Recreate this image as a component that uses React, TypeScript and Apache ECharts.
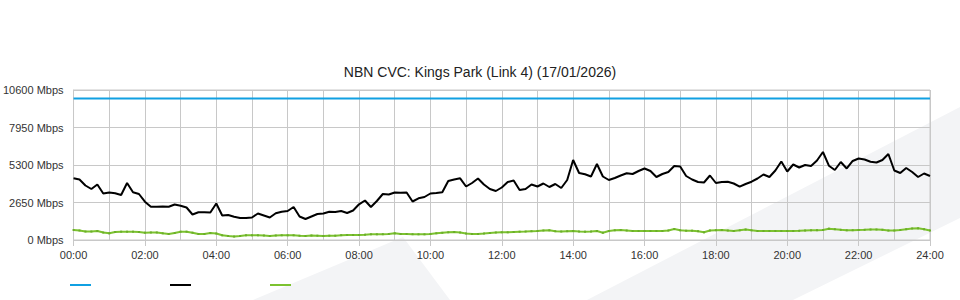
import React, { useEffect, useRef } from "react";
import * as echarts from "echarts";

const TITLE = "NBN CVC: Kings Park (Link 4) (17/01/2026)";
const Y_TICKS = [0, 2650, 5300, 7950, 10600];
const X_LABEL_HOURS = [0, 2, 4, 6, 8, 10, 12, 14, 16, 18, 20, 22, 24];
const STEP_MINUTES = 10;
const CAPACITY = 10000;

const TRAFFIC = [
  4360, 4276, 3851, 3604, 3922, 3286, 3357, 3300, 3180, 4028, 3371, 3251,
  2707, 2353, 2353, 2367, 2353, 2509, 2424, 2297, 1802, 1958, 1958, 1943,
  2579, 1731, 1767, 1647, 1555, 1555, 1590, 1873, 1731, 1590, 1887, 2000,
  2049, 2332, 1661, 1484, 1661, 1837, 1873, 2000, 1979, 2049, 1908, 2085,
  2523, 2791, 2332, 2756, 3251, 3215, 3357, 3343, 3357, 2721, 2947, 3039,
  3286, 3321, 3371, 4170, 4276, 4360, 3781, 4028, 4346, 3922, 3604, 3463,
  3710, 4099, 4205, 3534, 3604, 3922, 3781, 3993, 3746, 3958, 3675, 4240,
  5654, 4735, 4643, 4488, 5371, 4488, 4240, 4382, 4558, 4714, 4664, 4876,
  5053, 4876, 4452, 4664, 4806, 5230, 5194, 4523, 4276, 4099, 4064, 4558,
  4028, 4099, 4120, 3993, 3767, 3958, 4120, 4346, 4629, 4452, 4912, 5548,
  4841, 5336, 5124, 5300, 5230, 5618, 6219, 5251, 4947, 5512, 5053, 5583,
  5760, 5689, 5533, 5477, 5654, 6078, 4912, 4735, 5088, 4806, 4452, 4700,
  4523,
];

const UPLOAD = [
  707, 671, 601, 601, 636, 530, 473, 565, 587, 587, 587, 565,
  516, 530, 530, 473, 424, 495, 587, 587, 516, 424, 424, 495,
  459, 332, 283, 247, 283, 332, 332, 332, 318, 283, 318, 332,
  332, 332, 304, 283, 318, 304, 283, 304, 304, 339, 353, 353,
  353, 375, 403, 403, 410, 424, 473, 424, 424, 410, 403, 403,
  424, 473, 509, 544, 565, 530, 459, 424, 424, 459, 495, 530,
  544, 544, 565, 587, 601, 622, 636, 671, 686, 622, 601, 622,
  636, 601, 587, 601, 636, 516, 636, 686, 707, 671, 636, 636,
  636, 636, 636, 636, 671, 777, 686, 657, 657, 622, 544, 671,
  693, 707, 671, 636, 686, 742, 686, 636, 636, 636, 636, 636,
  636, 636, 650, 671, 686, 693, 707, 799, 763, 721, 686, 693,
  707, 721, 742, 742, 721, 671, 671, 707, 763, 813, 827, 763,
  671,
];

const BLUE = "#10a0e2";
const BLACK = "#000000";
const GREEN = "#7cc230";

const toPairs = (vals: number[]) =>
  vals.map((v, i) => [(i * STEP_MINUTES) / 60, v]);

const fmtHour = (h: number) => `${String(Math.round(h)).padStart(2, "0")}:00`;

export default function App() {
  const ref = useRef<HTMLDivElement>(null);
  useEffect(() => {
    if (!ref.current) return;
    const chart = echarts.init(ref.current, null, { renderer: "svg" });
    const gridColor = "#c8c8c8";
    chart.setOption({
      animation: false,
      backgroundColor: "#ffffff",
      textStyle: { fontFamily: "Liberation Sans, Arial, sans-serif" },
      title: {
        text: TITLE,
        left: "center",
        top: 60,
        textStyle: {
          fontSize: 14,
          fontWeight: "normal",
          color: "#222",
          fontFamily: "Liberation Sans, Arial, sans-serif",
        },
      },
      graphic: [
        {
          type: "polygon",
          z: -10,
          silent: true,
          shape: { points: [[587, 300], [960, 107], [960, 218], [793, 300]] },
          style: { fill: "#f3f4f6" },
        },
        {
          type: "polygon",
          z: -10,
          silent: true,
          shape: { points: [[253, 300], [403, 237], [450, 300]] },
          style: { fill: "#f3f4f6" },
        },
        {
          type: "line",
          shape: { x1: 70, y1: 285, x2: 91, y2: 285 },
          style: { stroke: BLUE, lineWidth: 2 },
        },
        {
          type: "line",
          shape: { x1: 170, y1: 285, x2: 191, y2: 285 },
          style: { stroke: BLACK, lineWidth: 2 },
        },
        {
          type: "line",
          shape: { x1: 270, y1: 285, x2: 291, y2: 285 },
          style: { stroke: GREEN, lineWidth: 2 },
        },
      ],
      grid: {
        left: 70,
        right: 30,
        top: 90,
        bottom: 60,
        show: true,
        borderColor: gridColor,
        borderWidth: 1,
        backgroundColor: "transparent",
      },
      xAxis: {
        type: "value",
        min: X_LABEL_HOURS[0],
        max: X_LABEL_HOURS[X_LABEL_HOURS.length - 1],
        interval: 2,
        axisLine: { show: true, lineStyle: { color: gridColor } },
        axisTick: { show: true, length: 6, lineStyle: { color: gridColor } },
        minorTick: { show: false, splitNumber: 2 },
        splitLine: { show: true, lineStyle: { color: gridColor, width: 1 } },
        minorSplitLine: { show: true, lineStyle: { color: gridColor, width: 1 } },
        axisLabel: {
          color: "#333",
          fontSize: 11,
          margin: 9,
          formatter: (v: number) => fmtHour(v),
        },
      },
      yAxis: {
        type: "value",
        min: Y_TICKS[0],
        max: Y_TICKS[Y_TICKS.length - 1],
        interval: Y_TICKS[1] - Y_TICKS[0],
        axisLine: { show: true, lineStyle: { color: gridColor } },
        axisTick: { show: false },
        splitLine: { show: true, lineStyle: { color: gridColor, width: 1 } },
        axisLabel: {
          color: "#333",
          fontSize: 11,
          margin: 10,
          verticalAlign: "middle",
          padding: [0, 0, 3, 0],
          formatter: (v: number) => `${v} Mbps`,
        },
      },
      series: [
        {
          type: "line",
          name: "Capacity",
          data: [
            [X_LABEL_HOURS[0], CAPACITY],
            [X_LABEL_HOURS[X_LABEL_HOURS.length - 1], CAPACITY],
          ],
          showSymbol: false,
          lineStyle: { color: BLUE, width: 2 },
          z: 3,
        },
        {
          type: "line",
          name: "Download",
          data: toPairs(TRAFFIC),
          showSymbol: false,
          lineStyle: { color: BLACK, width: 2 },
          z: 4,
        },
        {
          type: "line",
          name: "Upload",
          data: toPairs(UPLOAD),
          symbol: "rect",
          symbolSize: 2,
          itemStyle: { color: "#6aae28" },
          lineStyle: { color: GREEN, width: 2 },
          z: 3,
        },
      ],
    });
    return () => chart.dispose();
  }, []);
  return (
    <div
      ref={ref}
      style={{ position: "fixed", left: 0, top: 0, width: 960, height: 300 }}
    />
  );
}
